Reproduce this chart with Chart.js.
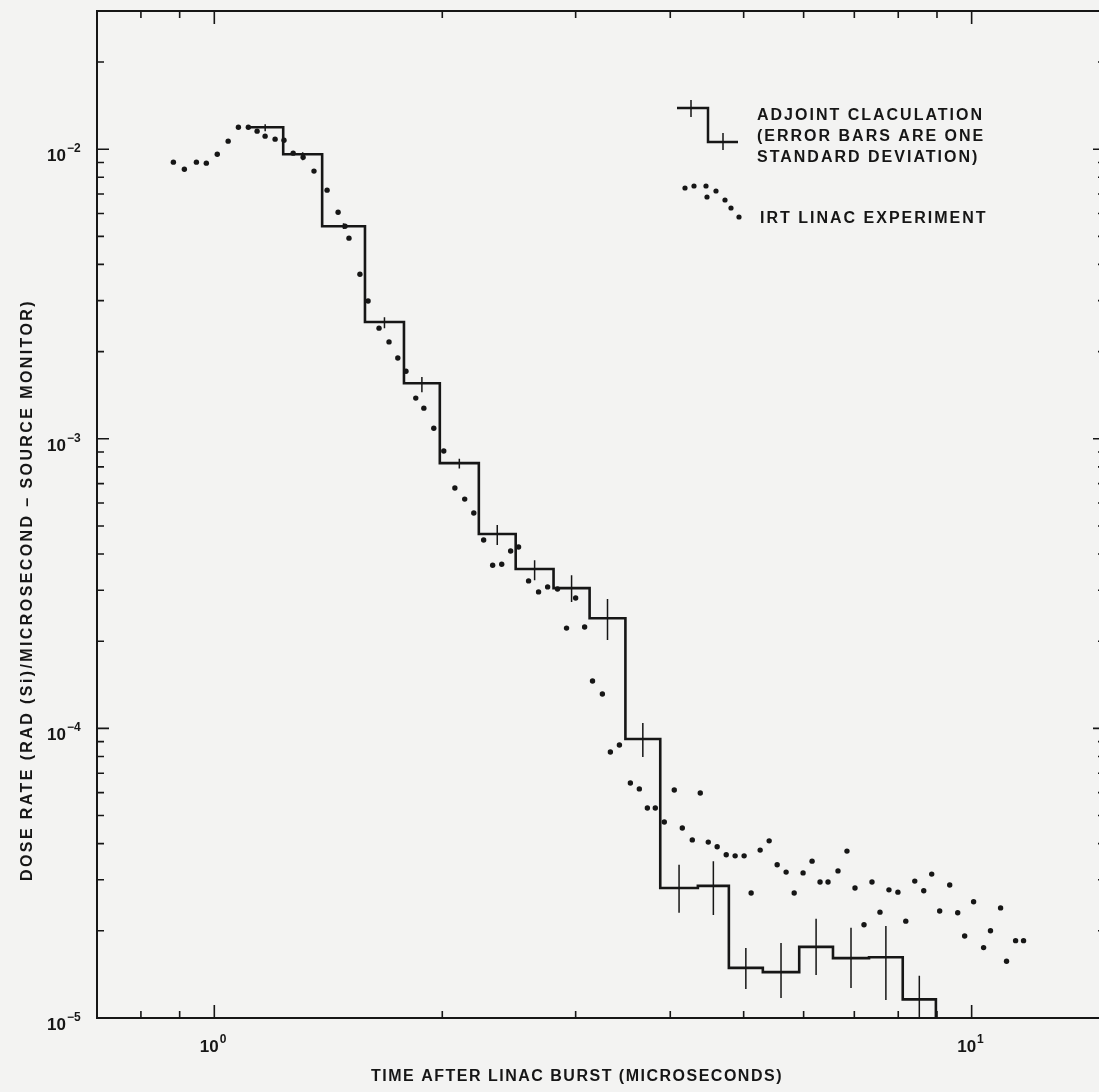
<!DOCTYPE html>
<html>
<head>
<meta charset="utf-8">
<title>Dose rate after linac burst</title>
<script src="https://cdn.jsdelivr.net/npm/chart.js@4.4.0/dist/chart.umd.min.js"></script>
<style>
  html, body { margin: 0; padding: 0; background: #f3f3f2; overflow: hidden; }
  #wrap { width: 1110px; height: 1092px; }
</style>
</head>
<body>
<div id="wrap"><canvas id="chart" width="1110" height="1092"></canvas></div>
<script>
// axis ranges
const X_MIN = 0.7, X_MAX = 15;
const Y_MIN = 1e-5, Y_MAX = 0.03;

// tick values and labels (labels are exponents of 10)
const xMajorTicks = [1, 10];
const xTickExponents = ['0', '1'];
const xMinorTicks = [0.8, 0.9, 2, 3, 4, 5, 6, 7, 8, 9];
const yMajorTicks = [1e-5, 1e-4, 1e-3, 1e-2];
const yTickExponents = ['\u22125', '\u22124', '\u22123', '\u22122'];
const yMinorTicks = [
  2e-5, 3e-5, 4e-5, 5e-5, 6e-5, 7e-5, 8e-5, 9e-5,
  2e-4, 3e-4, 4e-4, 5e-4, 6e-4, 7e-4, 8e-4, 9e-4,
  2e-3, 3e-3, 4e-3, 5e-3, 6e-3, 7e-3, 8e-3, 9e-3,
  2e-2
];

// adjoint calculation: histogram bin edges (microseconds), bin values, one-sigma error limits
const binEdges = [1.105, 1.233, 1.388, 1.581, 1.780, 1.985, 2.235, 2.50, 2.805, 3.13,
                  3.49, 3.88, 4.35, 4.78, 5.30, 5.92, 6.56, 7.32, 8.11, 8.97];
const calcValues = [0.01191, 0.00961, 0.00542, 0.00253, 0.001556, 0.000824, 0.000469, 0.000355, 0.000305, 0.000240,
                    9.19e-5, 2.81e-5, 2.86e-5, 1.49e-5, 1.44e-5, 1.76e-5, 1.61e-5, 1.62e-5, 1.16e-5];
const errLow = [0.01154, 0.00916, 0.00530, 0.00241, 0.001449, 0.000789, 0.000430, 0.000325, 0.000273, 0.000202,
                7.96e-5, 2.31e-5, 2.27e-5, 1.26e-5, 1.173e-5, 1.408e-5, 1.27e-5, 1.155e-5, 9.0e-6];
const errHigh = [0.01220, 0.00976, 0.00555, 0.00263, 0.001633, 0.000854, 0.000504, 0.000381, 0.000338, 0.000280,
                 1.044e-4, 3.38e-5, 3.48e-5, 1.746e-5, 1.816e-5, 2.20e-5, 2.05e-5, 2.08e-5, 1.398e-5];

// IRT linac experiment
const expTime = [0.883, 0.913, 0.947, 0.976, 1.009, 1.043, 1.076, 1.109, 1.139, 1.167,
                 1.203, 1.236, 1.271, 1.310, 1.354, 1.409, 1.457, 1.488, 1.506, 1.557,
                 1.596, 1.650, 1.701, 1.747, 1.791, 1.845, 1.891, 1.949, 2.009, 2.078,
                 2.141, 2.201, 2.268, 2.331, 2.396, 2.462, 2.522, 2.600, 2.680, 2.755,
                 2.839, 2.918, 3.000, 3.083, 3.158, 3.254, 3.334, 3.427, 3.543, 3.641,
                 3.731, 3.822, 3.928, 4.049, 4.149, 4.277, 4.382, 4.490, 4.613, 4.742,
                 4.872, 5.007, 5.115, 5.257, 5.403, 5.536, 5.689, 5.830, 5.990, 6.156,
                 6.307, 6.462, 6.661, 6.845, 7.014, 7.209, 7.386, 7.568, 7.777, 7.992,
                 8.185, 8.412, 8.645, 8.857, 9.074, 9.355, 9.585, 9.790, 10.06, 10.37,
                 10.59, 10.92, 11.12, 11.43, 11.71];
const expRate = [0.00902, 0.00853, 0.00902, 0.00895, 0.00961, 0.01066, 0.01191, 0.01191, 0.01154, 0.01109,
                 0.01083, 0.01074, 0.00969, 0.00938, 0.00840, 0.00722, 0.00606, 0.00542, 0.00493, 0.00370,
                 0.00299, 0.00241, 0.00216, 0.00190, 0.00171, 0.001382, 0.001276, 0.001088, 0.000907, 0.000676,
                 0.000619, 0.000554, 0.000447, 0.000366, 0.000369, 0.000410, 0.000423, 0.000323, 0.000296, 0.000308,
                 0.000303, 0.000222, 0.000282, 0.000224, 1.458e-4, 1.314e-4, 8.29e-5, 8.76e-5, 6.48e-5, 6.18e-5,
                 5.31e-5, 5.31e-5, 4.75e-5, 6.13e-5, 4.53e-5, 4.12e-5, 5.98e-5, 4.05e-5, 3.90e-5, 3.66e-5,
                 3.63e-5, 3.63e-5, 2.70e-5, 3.80e-5, 4.09e-5, 3.38e-5, 3.19e-5, 2.70e-5, 3.17e-5, 3.48e-5,
                 2.95e-5, 2.95e-5, 3.22e-5, 3.77e-5, 2.81e-5, 2.10e-5, 2.95e-5, 2.32e-5, 2.77e-5, 2.72e-5,
                 2.16e-5, 2.97e-5, 2.75e-5, 3.14e-5, 2.34e-5, 2.88e-5, 2.31e-5, 1.92e-5, 2.52e-5, 1.75e-5,
                 2.00e-5, 2.40e-5, 1.57e-5, 1.85e-5, 1.85e-5];

const INK = '#161616';
const FONT = '"Liberation Sans", Arial, sans-serif';

// step line points: left edge of each bin, then the last right edge, then the drop to the axis
const stepPoints = calcValues.map((v, i) => ({ x: binEdges[i], y: v }));
stepPoints.push({ x: binEdges[binEdges.length - 1], y: calcValues[calcValues.length - 1] });
stepPoints.push({ x: binEdges[binEdges.length - 1], y: Y_MIN });

// error bars as broken line segments at the log-centre of each bin
const errPoints = [];
calcValues.forEach((v, i) => {
  const c = Math.sqrt(binEdges[i] * binEdges[i + 1]);
  errPoints.push({ x: c, y: errLow[i] }, { x: c, y: errHigh[i] }, { x: c, y: null });
});

const expPoints = expTime.map((t, i) => ({ x: t, y: expRate[i] }));

const paperBackground = {
  id: 'paperBackground',
  beforeDraw(chart) {
    const c = chart.ctx;
    c.save();
    c.fillStyle = '#f3f3f2';
    c.fillRect(0, 0, chart.width, chart.height);
    c.restore();
  }
};

function drawPower(c, x, y, exp, align) {
  // "10" with a raised exponent; align 'right' puts the base's right edge at x, 'center' centres the base at x
  c.font = 'bold 17px ' + FONT;
  c.textBaseline = 'alphabetic';
  const w = c.measureText('10').width;
  const left = align === 'right' ? x - w : x - w / 2;
  c.textAlign = 'left';
  c.fillText('10', left, y);
  c.font = 'bold 12px ' + FONT;
  c.fillText(exp, left + w + 1, y - 9);
}

const frameAndLabels = {
  id: 'frameAndLabels',
  afterDraw(chart) {
    const c = chart.ctx;
    const a = chart.chartArea;
    const xs = chart.scales.x, ys = chart.scales.y;
    c.save();
    c.strokeStyle = INK;
    c.fillStyle = INK;

    // frame
    c.lineWidth = 2;
    c.strokeRect(a.left, a.top, a.right - a.left, a.bottom - a.top);

    // inward ticks on all four sides
    c.lineWidth = 1.6;
    c.beginPath();
    const xTick = (v, len) => {
      const px = xs.getPixelForValue(v);
      c.moveTo(px, a.bottom); c.lineTo(px, a.bottom - len);
      c.moveTo(px, a.top); c.lineTo(px, a.top + len);
    };
    const yTick = (v, len) => {
      const py = ys.getPixelForValue(v);
      c.moveTo(a.left, py); c.lineTo(a.left + len, py);
      c.moveTo(a.right, py); c.lineTo(a.right - len, py);
    };
    xMajorTicks.forEach(v => xTick(v, 13));
    xMinorTicks.forEach(v => xTick(v, 7));
    yMajorTicks.forEach(v => yTick(v, 12));
    yMinorTicks.forEach(v => yTick(v, 7));
    c.stroke();

    // tick labels
    xMajorTicks.forEach((v, i) => {
      drawPower(c, xs.getPixelForValue(v) - 5, a.bottom + 34, xTickExponents[i], 'center');
    });
    yMajorTicks.forEach((v, i) => {
      drawPower(c, 66, ys.getPixelForValue(v) + 12, yTickExponents[i], 'right');
    });

    // axis titles
    c.font = 'bold 16px ' + FONT;
    c.letterSpacing = '1.5px';
    c.textAlign = 'center';
    c.textBaseline = 'middle';
    c.fillText('TIME AFTER LINAC BURST (MICROSECONDS)', 577, 1077);
    c.save();
    c.letterSpacing = '2.4px';
    c.translate(28, 590);
    c.rotate(-Math.PI / 2);
    c.fillText('DOSE RATE (RAD (Si)/MICROSECOND \u2013 SOURCE MONITOR)', 0, 0);
    c.restore();

    // legend
    c.lineWidth = 2.5;
    c.beginPath();
    c.moveTo(677, 108); c.lineTo(708, 108); c.lineTo(708, 142); c.lineTo(738, 142);
    c.stroke();
    c.lineWidth = 1.5;
    c.beginPath();
    c.moveTo(691, 100); c.lineTo(691, 117);
    c.moveTo(723, 133); c.lineTo(723, 150);
    c.stroke();
    [[685, 188], [694, 186], [706, 186], [716, 191], [707, 197], [725, 200], [731, 208], [739, 217]]
      .forEach(p => { c.beginPath(); c.arc(p[0], p[1], 2.6, 0, Math.PI * 2); c.fill(); });

    c.font = 'bold 16px ' + FONT;
    c.letterSpacing = '2px';
    c.textAlign = 'left';
    c.textBaseline = 'middle';
    c.fillText('ADJOINT CLACULATION', 757, 116);
    c.fillText('(ERROR BARS ARE ONE', 757, 137);
    c.fillText('STANDARD DEVIATION)', 757, 158);
    c.fillText('IRT LINAC EXPERIMENT', 760, 219);
    c.restore();
  }
};

new Chart(document.getElementById('chart').getContext('2d'), {
  type: 'scatter',
  data: {
    datasets: [
      {
        label: 'ADJOINT CLACULATION',
        type: 'line',
        data: stepPoints,
        stepped: true,
        borderColor: INK,
        borderWidth: 2.6,
        pointRadius: 0,
        fill: false
      },
      {
        label: 'Error bars (one standard deviation)',
        type: 'line',
        data: errPoints,
        spanGaps: false,
        borderColor: INK,
        borderWidth: 1.5,
        pointRadius: 0,
        fill: false
      },
      {
        label: 'IRT LINAC EXPERIMENT',
        data: expPoints,
        showLine: false,
        pointRadius: 2.7,
        pointBorderWidth: 0,
        pointBackgroundColor: INK
      }
    ]
  },
  options: {
    responsive: false,
    devicePixelRatio: 1,
    animation: false,
    layout: { padding: { left: 97, top: 11, right: 5, bottom: 74 } },
    plugins: { legend: { display: false }, tooltip: { enabled: false } },
    scales: {
      x: { type: 'logarithmic', min: X_MIN, max: X_MAX, display: false },
      y: { type: 'logarithmic', min: Y_MIN, max: Y_MAX, display: false }
    }
  },
  plugins: [paperBackground, frameAndLabels]
});
</script>
</body>
</html>
